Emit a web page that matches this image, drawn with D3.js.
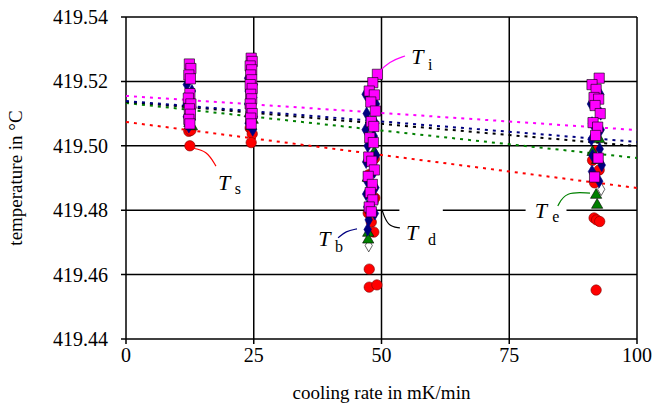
<!DOCTYPE html>
<html><head><meta charset="utf-8">
<script src="https://cdn.jsdelivr.net/npm/d3@7"></script>
<style>body{margin:0;background:#fff}svg{display:block}text{fill:#000}</style>
</head><body><svg id="c" width="654" height="407" font-family="'Liberation Serif', 'DejaVu Serif', serif"></svg>
<script>
// ---- data ----
const xTicks = [0, 25, 50, 75, 100];
const yTicks = [419.44, 419.46, 419.48, 419.50, 419.52, 419.54];
const trendX = [0, 100];
const tiTrend = [419.5155, 419.5049];
const tbTrend = [419.5139, 419.5012];
const tdTrend = [419.5137, 419.4999];
const teTrend = [419.5133, 419.4962];
const tsTrend = [419.5074, 419.4869];

const tsPts = [[12.3,419.5045],[12.7,419.5048],[12.5,419.5000],
  [24.3,419.5055],[24.7,419.5037],[24.5,419.5010],
  [48.0,419.502],[48.6,419.496],[47.5,419.491],[48.7,419.4838],[47.4,419.4791],[48.0,419.4763],[48.5,419.4732],[47.6,419.4617],[47.6,419.4561],[49.1,419.4568],
  [92.0,419.4985],[91.3,419.4955],[92.6,419.4925],[91.7,419.4885],[91.6,419.4776],[92.1,419.4770],[92.7,419.4765],[92.0,419.4552]];
const tdPts = [[12.5,419.510],[24.6,419.507],[47.5,419.469],[48.0,419.485],[92.4,419.497],[93.0,419.4865]];
const tePts = [[12.1,419.513],[12.5,419.509],[12.4,419.507],[12.9,419.506],
  [24.2,419.510],[24.8,419.508],[24.5,419.506],
  [48.6,419.498],[47.3,419.490],[48.3,419.4832],[48.0,419.480],[47.4,419.4729],[47.4,419.4708],
  [92.6,419.502],[91.3,419.498],[92.2,419.4955],[92.0,419.4847],[92.2,419.4816]];
const tbPts = [[11.9,419.519],[12.9,419.517],[12.1,419.516],[12.6,419.514],[11.9,419.513],[13.0,419.512],[12.3,419.510],[11.9,419.509],[12.8,419.508],[12.3,419.506],
  [23.9,419.521],[25.0,419.519],[24.0,419.517],[24.9,419.515],[23.9,419.513],[24.6,419.511],[25.0,419.509],[24.0,419.507],[24.8,419.505],
  [46.9,419.516],[48.9,419.513],[47.1,419.510],[48.8,419.507],[46.9,419.505],[48.5,419.503],[47.3,419.500],[48.9,419.497],[47.0,419.495],[48.6,419.492],[47.2,419.489],[48.8,419.487],[47.0,419.485],[48.4,419.483],[47.2,419.481],[48.7,419.479],[47.5,419.477],[47.3,419.474],
  [92.8,419.516],[91.0,419.513],[92.9,419.510],[91.2,419.507],[92.9,419.505],[91.1,419.502],[92.7,419.499],[91.3,419.497],[93.1,419.494],[91.2,419.492],[92.6,419.489]];
const tiPts = [[12.4,419.5254],[12.7,419.5240],[12.3,419.5220],[12.6,419.5208],[12.5,419.5162],[12.2,419.5148],[12.7,419.5130],[12.4,419.5115],[12.6,419.5098],[12.3,419.5082],[12.5,419.5068],
  [24.5,419.5272],[24.7,419.5262],[24.3,419.5248],[24.6,419.5236],[24.4,419.5220],[24.6,419.5205],[24.3,419.5190],[24.7,419.5178],[24.4,419.5160],[24.6,419.5146],[24.3,419.5130],[24.5,419.5116],[24.7,419.5100],[24.4,419.5086],[24.5,419.5068],
  [49.2,419.5222],[48.3,419.5196],[47.6,419.5170],[48.6,419.5158],[47.9,419.5136],[48.8,419.5108],[48.0,419.5075],[48.5,419.5060],[47.7,419.5025],[48.4,419.5010],[47.5,419.4965],[48.1,419.4952],[48.6,419.4925],[47.4,419.4905],[48.2,419.4880],[47.8,419.4855],[48.3,419.4832],[47.6,419.4810],[48.0,419.4795],
  [92.6,419.521],[91.2,419.519],[92.0,419.5175],[91.6,419.5150],[92.5,419.5145],[91.8,419.5125],[92.8,419.5100],[91.4,419.5072],[92.3,419.5058],[91.9,419.5032],[92.4,419.4962],[91.7,419.4903]];

// annotations (data space)
const labels = [
  {name:"T", sub:"i", color:"#ff00ff", x:55.8, y:419.5254, sx:59.1, sy:419.5235,
   path:[[49.3,419.5226],[51.5,419.5262],[54.6,419.5279]]},
  {name:"T", sub:"s", color:"#ff0000", x:18.0, y:419.4863, sx:21.3, sy:419.4850,
   path:[[12.9,419.4993],[15.8,419.4985],[17.6,419.4937]]},
  {name:"T", sub:"b", color:"#000080", x:37.6, y:419.4689, sx:40.9, sy:419.4670,
   path:[[45.2,419.4742],[43.0,419.4735],[41.5,419.4714]]},
  {name:"T", sub:"d", color:"#000000", x:54.8, y:419.4707, sx:59.1, sy:419.4692,
   path:[[50.1,419.4801],[51.2,419.4750],[53.6,419.4745]], box:[53.5,62.0]},
  {name:"T", sub:"e", color:"#008000", x:80.0, y:419.4776, sx:83.4, sy:419.4763,
   path:[[90.8,419.4853],[86.0,419.4858],[84.5,419.4813]], box:[78.2,86.2]}
];

// ---- chart ----
const svg = d3.select("#c");
const x = d3.scaleLinear().domain([0,100]).range([126,637]);
const y = d3.scaleLinear().domain([419.44,419.54]).range([339,17]);

svg.append("g").selectAll("line").data(yTicks).join("line")
  .attr("x1", x(0)-5).attr("x2", x(100)).attr("y1", d=>y(d)).attr("y2", d=>y(d))
  .attr("stroke","#000").attr("stroke-width",1.5);
svg.append("g").selectAll("line").data(xTicks).join("line")
  .attr("x1", d=>x(d)).attr("x2", d=>x(d)).attr("y1", y(419.54)).attr("y2", y(419.44)+5)
  .attr("stroke","#000").attr("stroke-width",1.5);

labels.filter(l=>l.box).forEach(l=>{
  svg.append("rect").attr("x", x(l.box[0])).attr("width", x(l.box[1])-x(l.box[0]))
    .attr("y", y(419.4815)).attr("height", y(419.4765)-y(419.4815)).attr("fill","#fff");
});

svg.append("g").selectAll("text").data(yTicks).join("text")
  .attr("x", 108).attr("y", d=>y(d)).attr("dy","0.35em").attr("text-anchor","end")
  .attr("font-size",20).text(d=>d3.format(".2f")(d));
svg.append("g").selectAll("text").data(xTicks).join("text")
  .attr("x", d=>x(d)).attr("y", 362).attr("text-anchor","middle")
  .attr("font-size",20).text(d=>d);

svg.append("text").attr("x", x(50)).attr("y", 399).attr("text-anchor","middle")
  .attr("font-size",19).text("cooling rate in mK/min");
svg.append("text").attr("transform",`translate(22,${y(419.49)}) rotate(-90)`)
  .attr("text-anchor","middle").attr("font-size",19).text("temperature in °C");

const trends = [[tsTrend,"#ff0000"],[teTrend,"#008000"],[tdTrend,"#000000"],[tbTrend,"#000080"],[tiTrend,"#ff00ff"]];
trends.forEach(([t,c])=>{
  svg.append("line").attr("x1",x(trendX[0])).attr("x2",x(trendX[1]))
    .attr("y1",y(t[0])).attr("y2",y(t[1]))
    .attr("stroke",c).attr("stroke-width",2).attr("stroke-dasharray","3,5");
});

function pts(data, sym, size, fill, stroke){
  svg.append("g").selectAll("path").data(data).join("path")
    .attr("transform", d=>`translate(${x(d[0])},${y(d[1])})`)
    .attr("d", d3.symbol(sym, size)())
    .attr("fill", fill).attr("stroke", stroke).attr("stroke-width", 0.6);
}
pts(tsPts, d3.symbolCircle, 85, "#ff0000", "#800000");
pts(tdPts, d3.symbolDiamond, 45, "#ffffff", "#000000");
pts(tePts, d3.symbolTriangle, 55, "#008000", "#000000");
pts(tbPts, d3.symbolDiamond, 50, "#000080", "#000080");
pts(tiPts, d3.symbolSquare, 105, "#ff00ff", "#000000");

const curve = d3.line().x(d=>x(d[0])).y(d=>y(d[1])).curve(d3.curveBasis);
labels.forEach(l=>{
  const p = l.path;
  svg.append("path").attr("d", curve([p[0],p[0],p[1],p[2],p[2]]))
    .attr("fill","none").attr("stroke",l.color).attr("stroke-width",1.2);
  svg.append("text").attr("x",x(l.x)).attr("y",y(l.y)).attr("font-size",22)
    .attr("font-style","italic").text(l.name);
  svg.append("text").attr("x",x(l.sx)).attr("y",y(l.sy)).attr("font-size",16).text(l.sub);
});
</script></body></html>
